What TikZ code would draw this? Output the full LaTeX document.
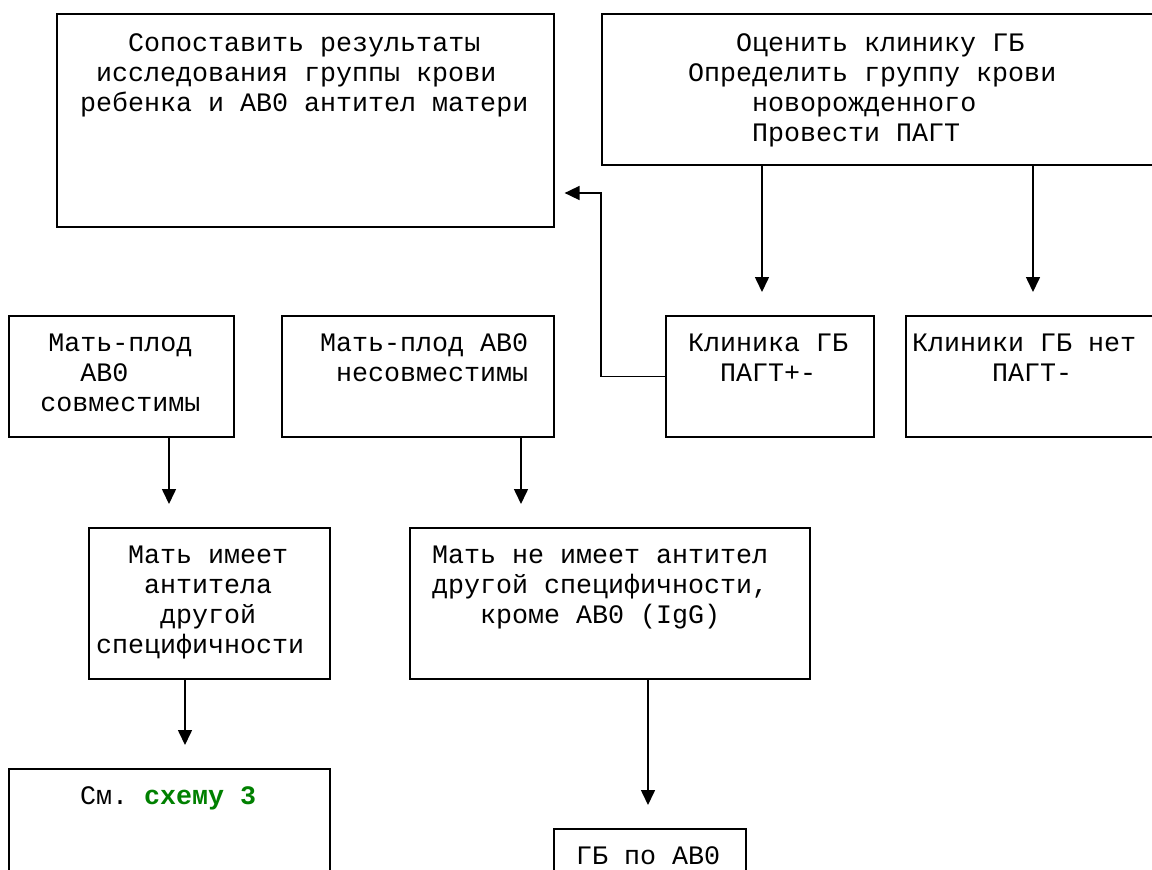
\documentclass[tikz,border=0pt]{standalone}
\usepackage{fontspec}
\setmonofont{Liberation Mono}
\usetikzlibrary{arrows.meta}
\definecolor{linkgreen}{RGB}{0,128,0}
\newcommand{\ind}{\hphantom{0}}

\begin{document}
\begin{tikzpicture}[x=1pt,y=-1pt,
  box/.style={draw,line width=1.6pt,anchor=north west,inner sep=0pt},
  txt/.style={font=\ttfamily\fontsize{26.67}{30}\selectfont,align=left,anchor=north west,inner sep=0pt},
  arr/.style={line width=1.6pt,-{Triangle[width=14pt,length=15pt]},shorten >=23pt}]
\useasboundingbox (0,0) rectangle (1152,870);
\clip (0,0) rectangle (1152,870);

% boxes
\node[box,minimum width=497pt,minimum height=213pt] (cmp) at (56,13) {};
\node[box,minimum width=569pt,minimum height=151pt] (eval) at (601,13) {};
\node[box,minimum width=225pt,minimum height=121pt] (comp) at (8,315) {};
\node[box,minimum width=272pt,minimum height=121pt] (incomp) at (281,315) {};
\node[box,minimum width=208pt,minimum height=121pt] (clin) at (665,315) {};
\node[box,minimum width=265pt,minimum height=121pt] (noclin) at (905,315) {};
\node[box,minimum width=241pt,minimum height=151pt] (other) at (88,527) {};
\node[box,minimum width=400pt,minimum height=151pt] (noother) at (409,527) {};
\node[box,minimum width=321pt,minimum height=150pt] (see) at (8,768) {};
\node[box,minimum width=192pt,minimum height=100pt] (hdn) at (553,828) {};

% texts
\node[txt] (cmpt) at (80,30) {\strut\ind\ind\ind Сопоставить результаты\\\ind исследования группы крови\\ребенка и АВ0 антител матери};
\node[txt] (evalt) at (688,30) {\strut\ind\ind\ind Оценить клинику ГБ\\Определить группу крови\\\ind\ind\ind\ind новорожденного\\\ind\ind\ind\ind Провести ПАГТ};
\node[txt,align=center,anchor=north] (compt) at (120.5,330) {\strut Мать-плод\\АВ0\ind\ind\\совместимы};
\node[txt] (incompt) at (320,330) {\strut Мать-плод АВ0\\\ind несовместимы};
\node[txt] (clint) at (688,330) {\strut Клиника ГБ\\\ind\ind ПАГТ+-};
\node[txt] (noclint) at (912,330) {\strut Клиники ГБ нет\\\ind\ind\ind\ind\ind ПАГТ-};
\node[txt] (othert) at (96,542) {\strut\ind\ind Мать имеет\\\ind\ind\ind антитела\\\ind\ind\ind\ind другой\\специфичности};
\node[txt] (noothert) at (432,542) {\strut Мать не имеет антител\\другой специфичности,\\\ind\ind\ind кроме АВ0 (IgG)};
\node[txt] (seet) at (80,783) {\strut См. \textbf{\color{linkgreen}схему 3}};
\node[txt] (hdnt) at (576,843) {\strut ГБ по АВ0};

% connectors
\foreach \n/\x in {a/762,b/1033,c/169,d/521,e/185,f/648}
  \coordinate (x\n) at (\x,0);
\coordinate (jn) at (601,193);
\draw[arr] (eval.south -| xa) -- (clin.north -| xa);
\draw[arr] (eval.south -| xb) -- (noclin.north -| xb);
\draw[arr] (comp.south -| xc) -- (other.north -| xc);
\draw[arr] (incomp.south -| xd) -- (noother.north -| xd);
\draw[arr] (other.south -| xe) -- (see.north -| xe);
\draw[arr] (noother.south -| xf) -- (hdn.north -| xf);
\draw[arr,shorten >=10pt] (clin.west) -| (jn) -- (cmp.east |- jn);
\end{tikzpicture}
\end{document}
